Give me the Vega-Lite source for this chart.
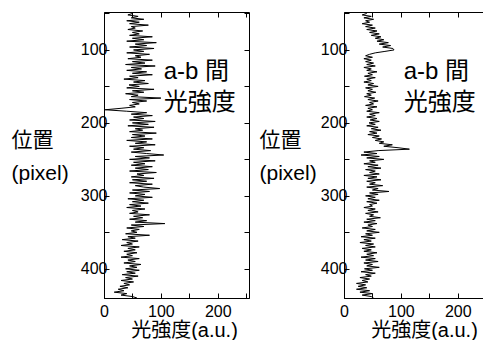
{
"$schema": "https://vega.github.io/schema/vega-lite/v6.json",
"padding": {"left": 10, "top": 4, "right": 0, "bottom": 0},
"bounds": "flush",
"spacing": 95,
"config": {
  "view": {"stroke": "black", "strokeWidth": 1},
  "axis": {"grid": false, "domainColor": "black", "tickColor": "black", "labelColor": "black", "titleColor": "black", "labelFont": "Liberation Sans", "labelFontSize": 16, "titleFont": "Liberation Sans, Noto Sans CJK JP", "titleFontSize": 21, "titleFontWeight": "normal", "labelFlush": false, "labelOverlap": false, "tickSize": -5}
},
"datasets": {
"prof": [
{"p":50,"L":50,"R":40},{"p":52,"L":42,"R":32},{"p":54,"L":60,"R":48},{"p":56,"L":48,"R":35},{"p":58,"L":70,"R":52},{"p":60,"L":40,"R":38},{"p":62,"L":62,"R":45},{"p":64,"L":45,"R":32},{"p":66,"L":78,"R":50},{"p":68,"L":48,"R":38},
{"p":70,"L":55,"R":55},{"p":72,"L":42,"R":40},{"p":74,"L":68,"R":58},{"p":76,"L":50,"R":45},{"p":78,"L":62,"R":62},{"p":80,"L":45,"R":48},{"p":82,"L":85,"R":65},{"p":84,"L":50,"R":55},{"p":86,"L":70,"R":70},{"p":88,"L":40,"R":58},
{"p":90,"L":92,"R":78},{"p":92,"L":55,"R":62},{"p":94,"L":75,"R":82},{"p":96,"L":45,"R":68},{"p":98,"L":88,"R":86},{"p":100,"L":52,"R":88},{"p":102,"L":70,"R":72},{"p":104,"L":40,"R":55},{"p":106,"L":80,"R":45},{"p":108,"L":55,"R":38},
{"p":110,"L":65,"R":50},{"p":112,"L":42,"R":35},{"p":114,"L":85,"R":48},{"p":116,"L":50,"R":38},{"p":118,"L":72,"R":52},{"p":120,"L":38,"R":40},{"p":122,"L":90,"R":55},{"p":124,"L":48,"R":35},{"p":126,"L":66,"R":48},{"p":128,"L":40,"R":40},
{"p":130,"L":75,"R":58},{"p":132,"L":50,"R":42},{"p":134,"L":85,"R":50},{"p":136,"L":45,"R":36},{"p":138,"L":60,"R":55},{"p":140,"L":35,"R":40},{"p":142,"L":72,"R":48},{"p":144,"L":52,"R":35},{"p":146,"L":78,"R":52},{"p":148,"L":44,"R":42},
{"p":150,"L":62,"R":60},{"p":152,"L":40,"R":38},{"p":154,"L":88,"R":50},{"p":156,"L":50,"R":42},{"p":158,"L":70,"R":56},{"p":160,"L":38,"R":40},{"p":162,"L":60,"R":48},{"p":164,"L":48,"R":36},{"p":166,"L":100,"R":54},{"p":168,"L":45,"R":42},
{"p":170,"L":75,"R":60},{"p":172,"L":50,"R":45},{"p":174,"L":62,"R":52},{"p":176,"L":45,"R":38},{"p":178,"L":55,"R":58},{"p":180,"L":30,"R":42},{"p":182,"L":2,"R":50},{"p":184,"L":40,"R":40},{"p":186,"L":75,"R":62},{"p":188,"L":48,"R":45},
{"p":190,"L":85,"R":55},{"p":192,"L":52,"R":40},{"p":194,"L":70,"R":58},{"p":196,"L":45,"R":46},{"p":198,"L":90,"R":62},{"p":200,"L":50,"R":44},{"p":202,"L":78,"R":55},{"p":204,"L":42,"R":40},{"p":206,"L":88,"R":60},{"p":208,"L":55,"R":48},
{"p":210,"L":68,"R":65},{"p":212,"L":45,"R":45},{"p":214,"L":92,"R":58},{"p":216,"L":50,"R":42},{"p":218,"L":72,"R":62},{"p":220,"L":48,"R":50},{"p":222,"L":85,"R":66},{"p":224,"L":40,"R":55},{"p":226,"L":75,"R":70},{"p":228,"L":55,"R":62},
{"p":230,"L":90,"R":85},{"p":232,"L":45,"R":70},{"p":234,"L":70,"R":95},{"p":236,"L":52,"R":115},{"p":238,"L":82,"R":60},{"p":240,"L":48,"R":35},{"p":242,"L":75,"R":58},{"p":244,"L":105,"R":30},{"p":246,"L":55,"R":62},{"p":248,"L":80,"R":40},
{"p":250,"L":45,"R":70},{"p":252,"L":90,"R":45},{"p":254,"L":52,"R":55},{"p":256,"L":72,"R":35},{"p":258,"L":48,"R":60},{"p":260,"L":85,"R":42},{"p":262,"L":55,"R":65},{"p":264,"L":78,"R":38},{"p":266,"L":45,"R":55},{"p":268,"L":92,"R":45},
{"p":270,"L":58,"R":62},{"p":272,"L":70,"R":35},{"p":274,"L":48,"R":58},{"p":276,"L":88,"R":42},{"p":278,"L":50,"R":65},{"p":280,"L":75,"R":40},{"p":282,"L":45,"R":55},{"p":284,"L":85,"R":45},{"p":286,"L":55,"R":68},{"p":288,"L":70,"R":40},
{"p":290,"L":98,"R":60},{"p":292,"L":50,"R":50},{"p":294,"L":80,"R":79},{"p":296,"L":45,"R":45},{"p":298,"L":72,"R":60},{"p":300,"L":55,"R":38},{"p":302,"L":85,"R":55},{"p":304,"L":42,"R":42},{"p":306,"L":70,"R":62},{"p":308,"L":50,"R":40},
{"p":310,"L":78,"R":58},{"p":312,"L":45,"R":45},{"p":314,"L":65,"R":50},{"p":316,"L":40,"R":35},{"p":318,"L":72,"R":55},{"p":320,"L":50,"R":42},{"p":322,"L":60,"R":60},{"p":324,"L":45,"R":38},{"p":326,"L":80,"R":52},{"p":328,"L":52,"R":45},
{"p":330,"L":68,"R":64},{"p":332,"L":45,"R":40},{"p":334,"L":75,"R":55},{"p":336,"L":55,"R":35},{"p":338,"L":107,"R":58},{"p":340,"L":48,"R":42},{"p":342,"L":70,"R":50},{"p":344,"L":40,"R":32},{"p":346,"L":62,"R":55},{"p":348,"L":48,"R":40},
{"p":350,"L":58,"R":62},{"p":352,"L":38,"R":38},{"p":354,"L":80,"R":50},{"p":356,"L":42,"R":30},{"p":358,"L":55,"R":55},{"p":360,"L":32,"R":35},{"p":362,"L":60,"R":48},{"p":364,"L":40,"R":28},{"p":366,"L":50,"R":52},{"p":368,"L":30,"R":38},
{"p":370,"L":62,"R":55},{"p":372,"L":42,"R":32},{"p":374,"L":55,"R":48},{"p":376,"L":35,"R":35},{"p":378,"L":58,"R":58},{"p":380,"L":40,"R":40},{"p":382,"L":50,"R":52},{"p":384,"L":30,"R":30},{"p":386,"L":62,"R":55},{"p":388,"L":42,"R":38},
{"p":390,"L":55,"R":60},{"p":392,"L":35,"R":35},{"p":394,"L":65,"R":50},{"p":396,"L":45,"R":40},{"p":398,"L":58,"R":62},{"p":400,"L":38,"R":36},{"p":402,"L":62,"R":50},{"p":404,"L":40,"R":30},{"p":406,"L":55,"R":55},{"p":408,"L":32,"R":38},
{"p":410,"L":60,"R":48},{"p":412,"L":38,"R":28},{"p":414,"L":50,"R":45},{"p":416,"L":30,"R":32},{"p":418,"L":52,"R":42},{"p":420,"L":35,"R":22},{"p":422,"L":45,"R":38},{"p":424,"L":28,"R":25},{"p":426,"L":42,"R":40},{"p":428,"L":25,"R":22},
{"p":430,"L":35,"R":45},{"p":432,"L":18,"R":28},{"p":434,"L":40,"R":50},{"p":436,"L":30,"R":32},{"p":438,"L":50,"R":48},{"p":440,"L":58,"R":52}
],
"ann": [{"tx":105,"ty":130,"t":"a-b 間"},{"tx":105,"ty":173,"t":"光強度"}]
},
"hconcat": [
{
  "width": 145, "height": 286,
  "layer": [
    {"data": {"name": "prof"},
     "mark": {"type": "line", "color": "black", "strokeWidth": 1, "clip": true},
     "encoding": {
       "x": {"field": "L", "type": "quantitative", "scale": {"domain": [0, 255], "nice": false, "zero": false},
             "axis": {"orient": "bottom", "values": [0, 50, 100, 150, 200, 250], "labelExpr": "datum.value % 100 === 0 ? datum.label : ''", "labelPadding": 10, "title": "光強度(a.u.)", "titleFontSize": 20, "titleX": 80, "titleY": 32, "titleBaseline": "middle", "titleAnchor": "start", "titleAlign": "center"}},
       "y": {"field": "p", "type": "quantitative", "scale": {"domain": [48, 440], "reverse": true, "nice": false, "zero": false},
             "axis": {"orient": "left", "values": [50, 100, 150, 200, 250, 300, 350, 400], "labelExpr": "datum.value % 100 === 0 ? datum.label : ''", "labelPadding": 2, "title": ["位置", "(pixel)"], "titleAngle": 0, "titleAlign": "left", "titleBaseline": "middle", "titleX": -93, "titleY": 128, "titleLineHeight": 33}},
       "order": {"field": "p"}
     }},
    {"data": {"name": "ann"},
     "mark": {"type": "text", "align": "left", "baseline": "middle", "fontSize": 24, "font": "Liberation Sans, Noto Sans CJK JP", "color": "black"},
     "encoding": {
       "x": {"field": "tx", "type": "quantitative", "axis": {"orient": "top", "values": [50, 100, 150, 200, 250], "labels": false, "title": null, "domain": false}},
       "y": {"field": "ty", "type": "quantitative", "axis": {"orient": "right", "values": [50, 100, 150, 200, 250, 300, 350, 400], "labels": false, "title": null, "domain": false}},
       "text": {"field": "t"}
     }}
  ],
  "resolve": {"axis": {"x": "independent", "y": "independent"}}
},
{
  "width": 145, "height": 286,
  "layer": [
    {"data": {"name": "prof"},
     "mark": {"type": "line", "color": "black", "strokeWidth": 1, "clip": true},
     "encoding": {
       "x": {"field": "R", "type": "quantitative", "scale": {"domain": [0, 255], "nice": false, "zero": false},
             "axis": {"orient": "bottom", "values": [0, 50, 100, 150, 200, 250], "labelExpr": "datum.value % 100 === 0 ? datum.label : ''", "labelPadding": 10, "title": "光強度(a.u.)", "titleFontSize": 20, "titleX": 80, "titleY": 32, "titleBaseline": "middle", "titleAnchor": "start", "titleAlign": "center"}},
       "y": {"field": "p", "type": "quantitative", "scale": {"domain": [48, 440], "reverse": true, "nice": false, "zero": false},
             "axis": {"orient": "left", "values": [50, 100, 150, 200, 250, 300, 350, 400], "labelExpr": "datum.value % 100 === 0 ? datum.label : ''", "labelPadding": 2, "title": ["位置", "(pixel)"], "titleAngle": 0, "titleAlign": "left", "titleBaseline": "middle", "titleX": -85, "titleY": 128, "titleLineHeight": 33}},
       "order": {"field": "p"}
     }},
    {"data": {"name": "ann"},
     "mark": {"type": "text", "align": "left", "baseline": "middle", "fontSize": 24, "font": "Liberation Sans, Noto Sans CJK JP", "color": "black"},
     "encoding": {
       "x": {"field": "tx", "type": "quantitative", "axis": {"orient": "top", "values": [50, 100, 150, 200, 250], "labels": false, "title": null, "domain": false}},
       "y": {"field": "ty", "type": "quantitative", "axis": {"orient": "right", "values": [50, 100, 150, 200, 250, 300, 350, 400], "labels": false, "title": null, "domain": false}},
       "text": {"field": "t"}
     }}
  ],
  "resolve": {"axis": {"x": "independent", "y": "independent"}}
}
]
}
